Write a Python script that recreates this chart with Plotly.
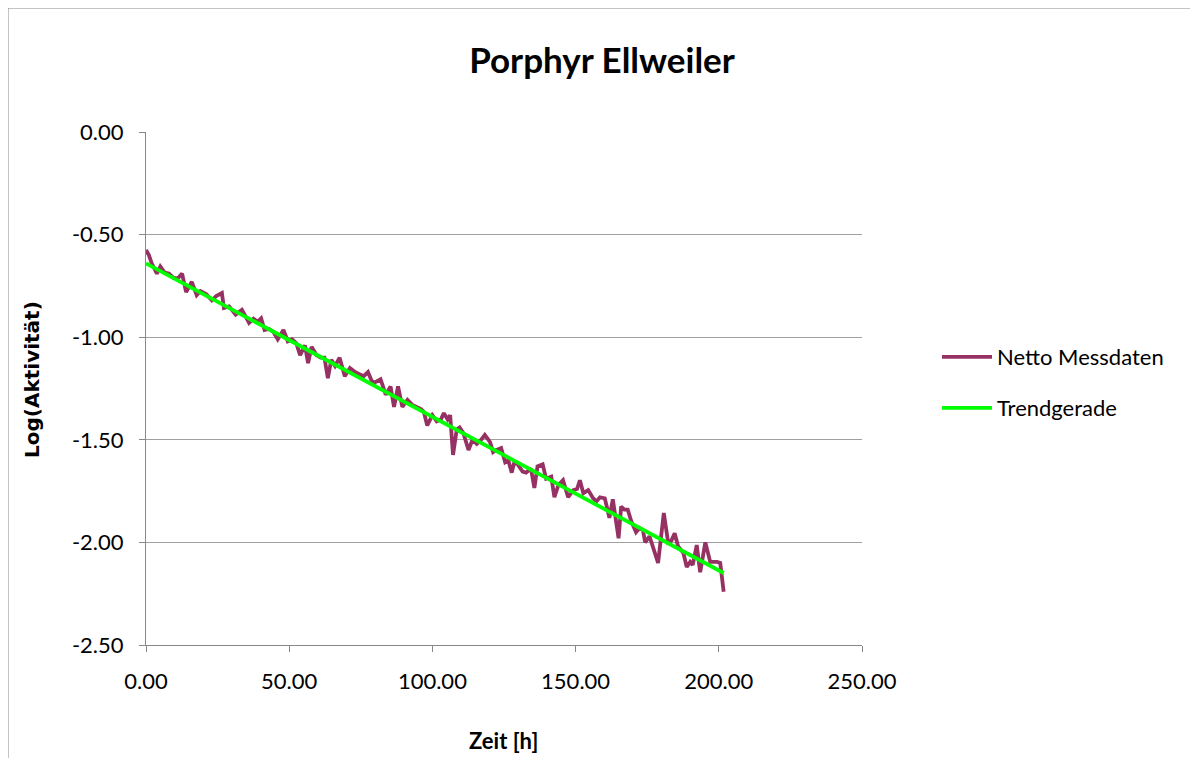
import plotly.graph_objects as go

# Measured data (time in hours, log activity)
zeit = [0, 1, 2, 3.8, 5, 6.5, 8, 9.5, 11, 12.6, 14, 16, 17.7, 19, 21, 23, 24.5, 26.5, 27.2, 29,
        31.3, 33.5, 36, 37.5, 39, 40.2, 41.4, 43, 44.5, 46, 48, 49.5, 51, 52.5, 53.8, 55.5, 56.6,
        57.8, 59.5, 61, 62.3, 63.5, 64.7, 66, 67.6, 69.4, 71.2, 73, 74.5, 76, 77.5, 78.7, 79.6,
        81.9, 83.7, 85.4, 86.6, 88, 89.5, 91.3, 93, 94.5, 96, 97, 98.2, 100, 101.5, 103, 104,
        105.3, 106.2, 107.2, 108.5, 109.5, 110.8, 112.6, 114, 115.5, 117, 118.3, 120.1, 121.2,
        122.2, 124, 125.4, 126.5, 127.7, 128.6, 129.8, 131.5, 132.7, 134.4, 135.6, 136.7, 138.5,
        139.7, 141.5, 142.6, 144, 145.6, 147.4, 149.2, 150.5, 151.5, 152.7, 154.4, 156.1, 157.3,
        158.5, 160.2, 161.8, 163, 165, 165.9, 167, 168.2, 169.5, 171.1, 172.3, 173.5, 174.3,
        175.8, 177.6, 178.8, 180.8, 182.3, 183.5, 184.6, 185.8, 187.6, 188.8, 190, 190.9, 192.3,
        193.5, 195.3, 197, 199.4, 200.5, 201.7]
netto = [-0.575, -0.60, -0.64, -0.69, -0.655, -0.685, -0.69, -0.71, -0.715, -0.69, -0.78, -0.73,
         -0.795, -0.775, -0.79, -0.82, -0.80, -0.785, -0.858, -0.85, -0.89, -0.867, -0.93, -0.91,
         -0.925, -0.908, -0.965, -0.96, -0.975, -1.01, -0.965, -1.02, -1.01, -1.03, -1.087, -1.04,
         -1.126, -1.047, -1.087, -1.10, -1.10, -1.20, -1.11, -1.14, -1.10, -1.19, -1.15, -1.17,
         -1.18, -1.19, -1.17, -1.21, -1.223, -1.205, -1.28, -1.24, -1.34, -1.24, -1.34, -1.306,
         -1.33, -1.34, -1.35, -1.363, -1.43, -1.38, -1.41, -1.40, -1.37, -1.40, -1.38, -1.574,
         -1.45, -1.44, -1.467, -1.55, -1.50, -1.52, -1.50, -1.476, -1.51, -1.56, -1.55, -1.54,
         -1.61, -1.60, -1.66, -1.61, -1.62, -1.655, -1.66, -1.64, -1.735, -1.63, -1.62, -1.69,
         -1.68, -1.78, -1.72, -1.697, -1.78, -1.745, -1.74, -1.697, -1.76, -1.745, -1.785, -1.80,
         -1.78, -1.785, -1.88, -1.79, -1.98, -1.825, -1.84, -1.84, -1.90, -1.95, -1.93, -1.94,
         -2.0, -1.97, -2.04, -2.10, -1.857, -2.0, -1.99, -1.955, -2.02, -2.05, -2.12, -2.095,
         -2.11, -2.013, -2.145, -2.0, -2.095, -2.095, -2.10, -2.24]

# Trend line endpoints
trend_x = [0, 201.7]
trend_y = [-0.64, -2.149]

x_ticks = [0, 50, 100, 150, 200, 250]
y_ticks = [0, -0.5, -1.0, -1.5, -2.0, -2.5]

FONT = "Lato, 'Open Sans', sans-serif"

# Figure is placed with an 8px page margin; size it to fill the 1198x758 window
W, H = 1190, 750
L, R, T, B = 138, 854, 124, 637
PW, PH = R - L, B - T


def px(xf):
    return (xf - L) / PW


def py(yf):
    return (B - yf) / PH


fig = go.Figure()
fig.add_trace(go.Scatter(x=zeit, y=netto, mode="lines", name="Netto Messdaten",
                         line=dict(color="#953163", width=3.8), legend="legend",
                         showlegend=True))
fig.add_trace(go.Scatter(x=trend_x, y=trend_y, mode="lines", name="Trendgerade",
                         line=dict(color="#00FF00", width=3.8), legend="legend2",
                         showlegend=True))

legend_common = dict(xanchor="left", yanchor="middle", font=dict(size=22, family=FONT),
                     itemwidth=50, bgcolor="rgba(0,0,0,0)")

fig.update_layout(
    width=W, height=H,
    showlegend=True,
    margin=dict(l=L, r=W - R, t=T, b=H - B),
    paper_bgcolor="white", plot_bgcolor="white",
    font=dict(family=FONT, size=22, color="black"),
    title=dict(text="<b>Porphyr Ellweiler</b>", xref="container", x=594 / W, xanchor="center",
               yref="container", y=1 - 53 / H, yanchor="middle",
               font=dict(size=35, family=FONT)),
    xaxis=dict(range=[0, 250], tickvals=x_ticks, ticktext=[f"{v:.2f}" for v in x_ticks],
               showgrid=False, zeroline=False, showline=True, linecolor="#888888", linewidth=1,
               ticks="outside", ticklen=6, tickcolor="#888888", ticklabelstandoff=11),
    yaxis=dict(range=[-2.5, 0], tickvals=y_ticks, ticktext=[f"{v:.2f}" for v in y_ticks],
               showgrid=True, gridcolor="#a0a0a0", gridwidth=1, zeroline=False,
               showline=True, linecolor="#888888", linewidth=1,
               ticks="outside", ticklen=6, tickcolor="#888888", ticklabelstandoff=11),
    legend=dict(x=px(929), y=py(349), **legend_common),
    legend2=dict(x=px(929), y=py(400), **legend_common),
    annotations=[
        dict(text="<b>Zeit [h]</b>", xref="paper", yref="paper", x=px(495), y=py(732),
             xanchor="center", yanchor="middle", showarrow=False,
             font=dict(size=22, family=FONT)),
        dict(text="<b>Log(Aktivität)</b>", xref="paper", yref="paper", x=px(24), y=py(372),
             xanchor="center", yanchor="middle", showarrow=False, textangle=-90,
             font=dict(size=20, family="'DejaVu Sans', sans-serif")),
    ],
    shapes=[dict(type="rect", xref="paper", yref="paper",
                 x0=px(0), x1=px(1183), y0=py(760), y1=py(0),
                 line=dict(color="#888888", width=1), fillcolor="rgba(0,0,0,0)", layer="below")],
)

fig.write_html("out.html")
